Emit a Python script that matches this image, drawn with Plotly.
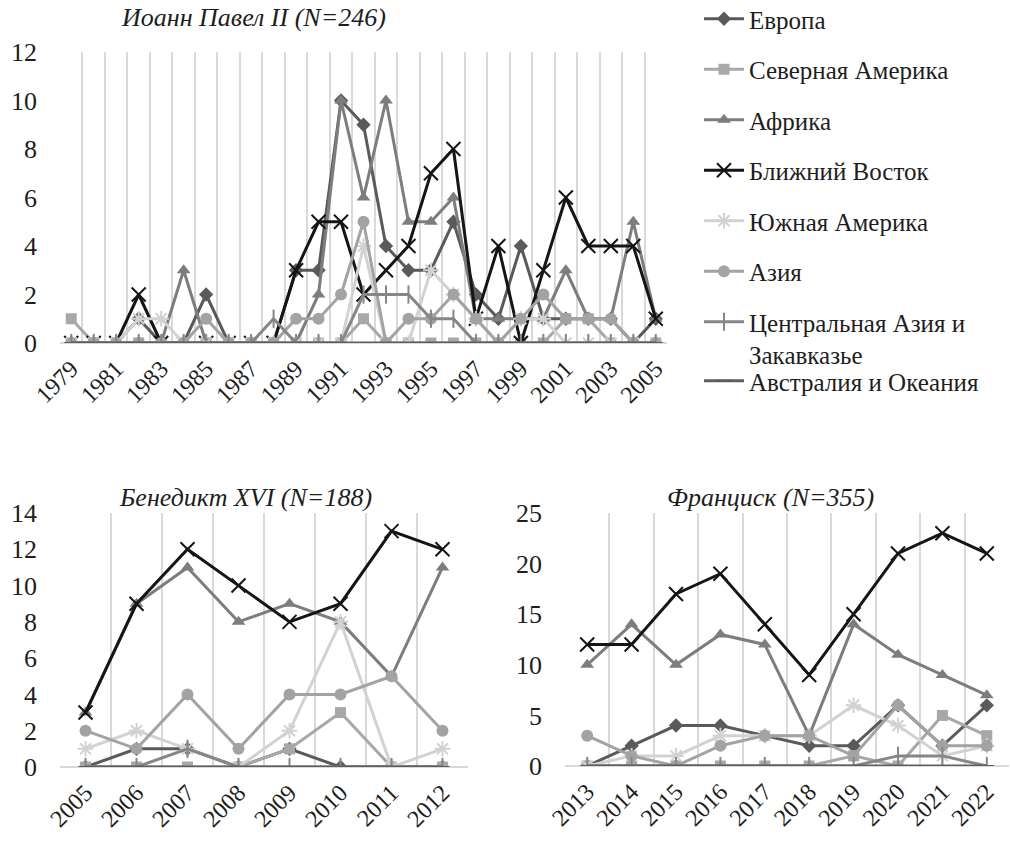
import plotly.graph_objects as go

# ---------------- data ----------------
series_names = ["Европа", "Северная Америка", "Африка", "Ближний Восток",
                "Южная Америка", "Азия", "Центральная Азия и<br>Закавказье",
                "Австралия и Океания"]

years_jp2 = list(range(1979, 2006))
jp2_europe = [0,0,0,1,0,0,2,0,0,0,3,3,10,9,4,3,3,5,2,1,4,1,1,1,1,0,1]
jp2_namerica = [1,0,0,0,0,0,0,0,0,0,0,0,0,1,0,0,0,0,0,0,0,0,1,1,0,0,0]
jp2_africa = [0,0,0,0,0,3,0,0,0,0,0,2,10,6,10,5,5,6,1,1,1,1,3,1,1,5,1]
jp2_mideast = [0,0,0,2,0,0,0,0,0,0,3,5,5,2,3,4,7,8,1,4,0,3,6,4,4,4,1]
jp2_samerica = [0,0,0,1,1,0,0,0,0,0,0,0,0,4,0,0,3,2,1,0,1,1,0,0,0,0,0]
jp2_asia = [0,0,0,0,0,0,1,0,0,0,1,1,2,5,0,1,1,2,1,0,1,2,1,1,1,0,0]
jp2_casia = [0,0,0,0,0,0,0,0,0,1,0,0,0,2,2,2,1,1,0,0,0,0,0,0,0,0,0]
jp2_oceania = [0]*27

years_b16 = list(range(2005, 2013))
b16_europe = [0,1,1,0,1,0,0,0]
b16_namerica = [0,0,0,0,1,3,0,0]
b16_africa = [3,9,11,8,9,8,5,11]
b16_mideast = [3,9,12,10,8,9,13,12]
b16_samerica = [1,2,1,0,2,8,0,1]
b16_asia = [2,1,4,1,4,4,5,2]
b16_casia = [0,0,1,0,0,0,0,0]
b16_oceania = [0]*8

years_fr = list(range(2013, 2023))
fr_europe = [0,2,4,4,3,2,2,6,2,6]
fr_namerica = [0,0,0,0,0,0,1,0,5,3]
fr_africa = [10,14,10,13,12,3,14,11,9,7]
fr_mideast = [12,12,17,19,14,9,15,21,23,21]
fr_samerica = [0,1,1,3,3,3,6,4,1,2]
fr_asia = [3,1,0,2,3,3,1,6,2,2]
fr_casia = [0,0,0,0,0,0,0,1,1,0]
fr_oceania = [0]*10

titles = ["Иоанн Павел II (N=246)", "Бенедикт XVI (N=188)", "Франциск (N=355)"]

# ---------------- styles ----------------
colors = ["#5a5a5a", "#a8a8a8", "#7d7d7d", "#151515", "#d2d2d2", "#a3a3a3", "#868686", "#5e5e5e"]
symbols = ["diamond", "square", "triangle-up", "x-thin-open", "asterisk-open",
           "circle", "line-ns-open", "line-ew-open"]
open_sym = [False, False, False, True, True, False, True, True]
msizes = [11, 11, 12, 14, 13, 12, 13, 10]

panels = [
    (years_jp2, [jp2_europe, jp2_namerica, jp2_africa, jp2_mideast, jp2_samerica, jp2_asia, jp2_casia, jp2_oceania], "x", "y"),
    (years_b16, [b16_europe, b16_namerica, b16_africa, b16_mideast, b16_samerica, b16_asia, b16_casia, b16_oceania], "x2", "y2"),
    (years_fr, [fr_europe, fr_namerica, fr_africa, fr_mideast, fr_samerica, fr_asia, fr_casia, fr_oceania], "x3", "y3"),
]

fig = go.Figure()
for p, (yrs, vals, xa, ya) in enumerate(panels):
    for i, name in enumerate(series_names):
        if open_sym[i]:
            marker = dict(symbol=symbols[i], size=msizes[i], color=colors[i],
                          line=dict(color=colors[i], width=2))
        else:
            marker = dict(symbol=symbols[i], size=msizes[i], color=colors[i], line=dict(width=0))
        fig.add_trace(go.Scatter(
            x=yrs, y=vals[i], name=name, mode="lines+markers",
            line=dict(color=colors[i], width=3), marker=marker,
            xaxis=xa, yaxis=ya, legendgroup=name,
            showlegend=(p == 0),
            legend=("legend2" if i == 7 else "legend"),
        ))

W, H = 1010, 845
def fx(px):
    return px / W
def fy(py):
    return 1 - py / H

serif = "Liberation Serif, Times New Roman, serif"
tickfont = dict(family=serif, size=26, color="#1e1e1e")
xtickfont = dict(family=serif, size=24, color="#1e1e1e")
legfont = dict(family=serif, size=25, color="#1e1e1e")
titlefont = dict(family=serif, size=26, color="#1e1e1e")
grid = "#d9d9d9"

def xax(domain, r, dtick, tick0):
    return dict(domain=domain, range=r, tickmode="linear", tick0=tick0, dtick=dtick,
                showgrid=False, zeroline=False, showline=False, ticks="",
                tickangle=-45, tickfont=xtickfont, ticklabelstandoff=6, automargin=False,
                minor=dict(tick0=r[0], dtick=1, showgrid=True, gridcolor=grid, gridwidth=1.5, ticks=""),
                fixedrange=True)

def yax(domain, r, dtick, anchor):
    return dict(domain=domain, range=r, tickmode="linear", tick0=0, dtick=dtick,
                showgrid=False, zeroline=True, zerolinecolor=grid, zerolinewidth=1.5,
                showline=False, ticks="", tickfont=tickfont, ticklabelstandoff=22,
                automargin=False, anchor=anchor, fixedrange=True)

fig.update_layout(
    width=W, height=H, autosize=False,
    margin=dict(l=0, r=0, t=0, b=0, autoexpand=False),
    paper_bgcolor="white", plot_bgcolor="white",
    font=dict(family=serif, color="#1e1e1e"),
    xaxis=xax([fx(60), fx(667)], [1978.5, 2005.5], 2, 1979) | dict(anchor="y"),
    yaxis=yax([fy(343), fy(52)], [0, 12], 2, "x"),
    xaxis2=xax([fx(60), fx(468)], [2004.5, 2012.5], 1, 2005) | dict(anchor="y2"),
    yaxis2=yax([fy(767), fy(513)], [0, 14], 2, "x2"),
    xaxis3=xax([fx(565), fx(1009)], [2012.5, 2022.5], 1, 2013) | dict(anchor="y3"),
    yaxis3=yax([fy(766), fy(513)], [0, 25], 5, "x3"),
    legend=dict(x=fx(699), y=fy(-4), xanchor="left", yanchor="top",
                font=legfont, valign="top",
                traceorder="grouped", tracegroupgap=15, itemwidth=40,
                bgcolor="rgba(0,0,0,0)"),
    legend2=dict(x=fx(699), y=fy(381), xanchor="left", yanchor="middle",
                 font=legfont, itemwidth=40, bgcolor="rgba(0,0,0,0)"),
    annotations=[
        dict(text="<i>" + titles[0] + "</i>", x=fx(253), y=fy(18), xref="paper", yref="paper",
             xanchor="center", yanchor="middle", showarrow=False, font=titlefont),
        dict(text="<i>" + titles[1] + "</i>", x=fx(245), y=fy(497), xref="paper", yref="paper",
             xanchor="center", yanchor="middle", showarrow=False, font=titlefont),
        dict(text="<i>" + titles[2] + "</i>", x=fx(770), y=fy(497), xref="paper", yref="paper",
             xanchor="center", yanchor="middle", showarrow=False, font=titlefont),
    ],
)

# remove the browser's default 8px page margin so the figure fills the window exactly
fig.write_html("out.html", config={"displayModeBar": False},
               post_script="document.body.style.margin='0';")
